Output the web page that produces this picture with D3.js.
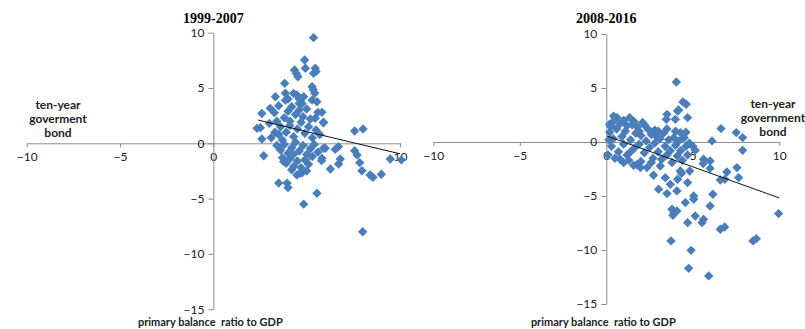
<!DOCTYPE html>
<html>
<head>
<meta charset="utf-8">
<script src="https://cdn.jsdelivr.net/npm/d3@7"></script>
<style>
  html, body { margin: 0; padding: 0; background: #fff; }
  svg { display: block; }
  .tick text { font-family: Lato, "Open Sans", sans-serif; font-size: 12px; fill: #222; }
  .axis path, .axis line { stroke: #8c8c8c; }
</style>
</head>
<body>
<svg id="chart" width="805" height="329"></svg>
<script>
// Primary balance ratio to GDP (x) vs ten-year government bond (y)
const titles = ["1999-2007", "2008-2016"];
const xTicks = [-10, -5, 0, 5, 10];
const yTicks = [10, 5, 0, -5, -10, -15];
const xLabel = "primary balance  ratio to GDP";
const yLabelLeft = ["ten-year", "goverment", "bond"];
const yLabelRight = ["ten-year", "government", "bond"];

// 1999-2007
const x1999 = [5.37,4.89,4.93,4.35,4.53,4.45,5.46,5.37,5.5,3.82,5.29,5.43,5.35,3.32,3.86,3.86,4.48,4.84,4.6,4.3,
  5.82,2.6,3.05,3.27,5.55,5.29,2.52,2.34,2.6,2.7,3.5,3.95,4.0,4.84,5.55,4.66,4.48,4.75,6.0,5.9,
  5.46,5.9,7.57,8.02,5.9,6.53,6.7,5.82,6.8,6.71,6.27,7.57,7.7,7.84,7.96,8.4,8.55,9.0,9.48,10.07,
  8.0,5.8,4.3,3.77,
  3.4,3.6,3.8,4.0,4.2,4.4,4.6,4.8,5.0,5.2,3.5,3.7,3.9,4.1,4.3,4.5,4.7,4.9,5.1,5.3,
  5.5,5.7,3.4,3.6,3.8,4.0,4.2,4.4,4.6,4.8,5.0,5.2,5.4,5.6,3.7,3.9,4.1,4.3,4.5,4.7,
  4.9,5.1,5.3,4.2,4.6,4.1,3.3,5.6,4.0,3.5,4.75,3.0,3.1,5.0];
const y1999 = [9.55,7.53,6.78,6.63,6.02,6.3,6.78,6.33,6.5,5.42,5.12,4.52,4.85,4.21,4.52,3.9,4.37,4.21,4.0,4.5,
  2.8,2.7,3.16,2.77,3.76,3.9,1.41,1.35,0.39,-1.12,-3.6,-3.6,-4.0,-5.5,-4.52,-2.7,-2.87,-2.66,-0.45,1.9,
  2.26,1.86,1.11,1.3,-0.45,-0.55,-0.3,-1.36,-1.42,-1.87,-2.32,-0.67,-1.06,-1.75,-2.48,-2.87,-3.07,-2.8,-1.42,-1.5,
  -8.0,-1.57,-2.1,-1.66,
  2.0,1.5,2.3,2.9,3.3,2.6,3.0,2.4,3.1,2.2,0.8,0.3,1.0,1.6,0.6,1.3,1.9,0.9,1.5,0.5,
  1.2,0.8,-0.2,-0.6,-0.1,-0.9,-0.4,0.1,-0.7,-0.2,-1.0,-0.5,-0.1,-0.8,-1.3,-1.8,-1.4,-1.0,-1.6,-2.2,
  -1.5,-1.9,-1.2,-2.4,3.6,2.0,1.0,2.8,4.0,3.4,3.6,1.8,0.5,-2.5];
const trendX1999 = [2.4, 10];
const trendY1999 = [2.1, -0.95];

// 2008-2016
const x2008 = [4.05,4.43,4.62,4.7,4.18,3.51,3.47,3.99,4.12,0.52,0.62,0.42,1.35,0.23,0.19,4.28,6.63,7.51,7.88,6.11,
  7.88,5.14,5.62,6.0,5.6,6.0,6.97,7.55,7.65,6.59,6.85,6.16,6.0,5.14,5.62,5.53,6.59,6.84,8.48,8.67,
  9.96,5.05,5.05,3.02,3.51,4.08,3.7,3.8,3.9,3.85,4.08,4.57,4.7,3.74,4.9,4.76,5.92,2.73,3.41,4.12,
  4.7,4.28,4.35,4.82,1.97,1.58,1.75,1.0,3.12,2.35,
  0.2,0.4,0.3,0.6,0.7,0.9,1.0,1.1,1.2,1.4,1.5,1.6,1.7,1.8,1.9,2.0,2.1,2.2,2.3,2.4,
  2.5,2.6,2.7,2.8,2.9,3.0,3.1,3.2,3.3,3.4,3.5,3.6,3.7,3.8,3.9,4.0,4.1,4.2,4.3,4.4,
  4.5,4.6,4.7,4.8,0.1,0.5,0.8,1.3,1.6,2.2,0.35,1.0,0.8,2.0,2.6,3.0,3.5,0.15,1.2,2.8,
  4.0,4.6,5.0,1.4,0.3,1.9];
const y2008 = [5.56,3.7,3.49,2.26,2.96,2.56,2.1,2.1,2.87,2.17,2.26,2.4,2.26,1.48,1.64,0.87,1.24,0.87,0.41,0.1,
  -0.77,-0.77,-1.6,-1.76,-2.0,-2.44,-2.78,-2.37,-3.3,-3.52,-3.45,-4.84,-5.92,-6.85,-7.16,-7.47,-8.08,-7.87,-9.16,-8.95,
  -6.63,-5.0,-5.3,-4.38,-4.78,-4.53,-3.92,-6.23,-6.5,-6.79,-6.39,-5.61,-7.47,-9.16,-10.03,-11.7,-12.4,-3.08,-3.3,-3.45,
  -3.76,-2.68,-2.9,-2.68,-2.37,-2.16,-2.1,-1.91,-2.22,-2.37,
  0.9,0.3,-0.4,1.2,-0.9,0.5,-0.2,1.0,-1.2,0.2,1.6,-0.6,0.8,1.4,-0.2,0.6,1.8,-1.0,0.1,1.2,
  -0.5,0.7,-1.5,-0.1,0.5,-0.9,0.3,-1.6,0.8,-0.4,-1.2,0.2,-0.8,-1.9,0.4,-0.3,-1.3,0.1,-0.8,-1.7,
  0.4,-0.4,-1.2,-0.1,-1.2,-1.5,-1.6,-1.7,1.9,1.6,1.8,2.0,1.7,-1.8,-1.9,1.0,1.2,0.2,1.5,1.1,
  1.0,0.9,-0.4,-0.9,1.5,1.0];
const trendX2008 = [0.05, 10];
const trendY2008 = [0.55, -5.18];

const svg = d3.select("#chart");
const markerColor = "#4a7ebb";
const diamond = d3.symbol().type(d3.symbolSquare).size(44);

const panels = [
  { title: titles[0], xs: x1999, ys: y1999, tx: trendX1999, ty: trendY1999,
    xRange: [26.7, 400], yRange: [32.7, 309.2], yLab: yLabelLeft, yLabX: 58, yLabY: [109, 123, 137] },
  { title: titles[1], xs: x2008, ys: y2008, tx: trendX2008, ty: trendY2008,
    xRange: [433.3, 779.3], yRange: [34, 304], yLab: yLabelRight, yLabX: 773, yLabY: [108, 122, 136] }
];

panels.forEach(p => {
  const x = d3.scaleLinear().domain([-10, 10]).range(p.xRange);
  const y = d3.scaleLinear().domain([10, -15]).range(p.yRange);
  const g = svg.append("g");

  // horizontal axis through y = 0
  const xAxis = g.append("g").attr("class", "axis")
    .attr("transform", `translate(0,${y(0)})`)
    .call(d3.axisBottom(x).tickValues(xTicks).tickSize(4).tickPadding(4).tickSizeOuter(0));
  xAxis.selectAll(".tick text").attr("dy", "0.85em");

  // vertical axis through x = 0
  g.append("g").attr("class", "axis")
    .attr("transform", `translate(${x(0)},0)`)
    .call(d3.axisLeft(y).tickValues(yTicks).tickSize(5).tickPadding(4).tickSizeOuter(0));

  g.selectAll(".axis .domain").attr("stroke", "#8c8c8c");

  // data points as diamonds
  g.selectAll("path.pt").data(p.xs.map((v, i) => [v, p.ys[i]]))
    .join("path").attr("class", "pt")
    .attr("d", diamond)
    .attr("fill", markerColor)
    .attr("transform", d => `translate(${x(d[0])},${y(d[1])}) rotate(45)`);

  // linear trend
  g.append("line")
    .attr("x1", x(p.tx[0])).attr("y1", y(p.ty[0]))
    .attr("x2", x(p.tx[1])).attr("y2", y(p.ty[1]))
    .attr("stroke", "#111").attr("stroke-width", 1);

  // title
  g.append("text").attr("x", x(0)).attr("y", 23)
    .attr("text-anchor", "middle")
    .style("font-family", "'Liberation Serif', 'Times New Roman', serif")
    .style("font-weight", "bold").style("font-size", "14px")
    .text(p.title);

  // y-axis label
  g.append("g").selectAll("text").data(p.yLab).join("text")
    .attr("x", p.yLabX).attr("y", (d, i) => p.yLabY[i])
    .attr("text-anchor", "middle")
    .style("font-family", "Lato, 'Open Sans', sans-serif")
    .style("font-weight", "bold").style("font-size", "12px").attr("fill", "#222")
    .text(d => d);

  // x-axis label
  g.append("text").attr("x", x(0) - 3).attr("y", 326)
    .attr("text-anchor", "middle")
    .style("font-family", "Lato, 'Open Sans', sans-serif")
    .style("font-weight", "bold").style("font-size", "11px").attr("fill", "#222")
    .attr("xml:space", "preserve")
    .text(xLabel);
});
</script>
</body>
</html>
